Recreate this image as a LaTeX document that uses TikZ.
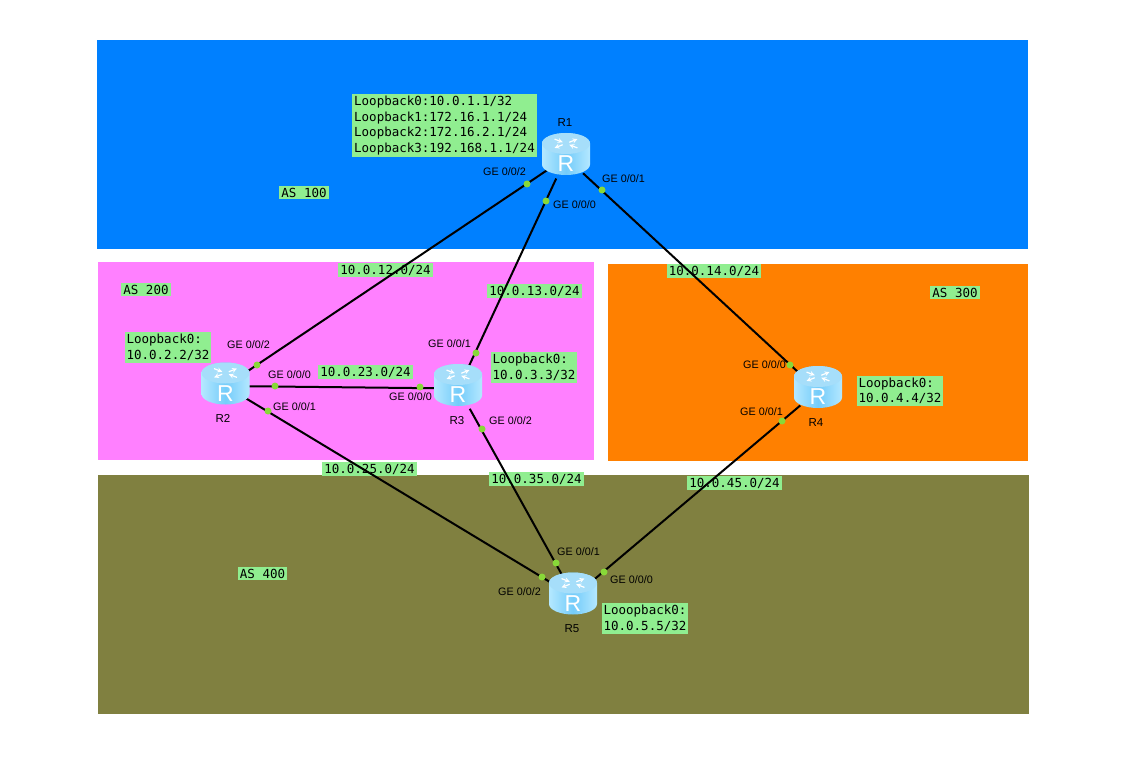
\documentclass[tikz,border=0pt]{standalone}
\usepackage{fontspec}
\setmainfont{Liberation Sans}
\setmonofont{DejaVu Sans Mono}
\usepackage{tikz}
\definecolor{asblue}{HTML}{0080FF}
\definecolor{aspink}{HTML}{FF80FF}
\definecolor{asorange}{HTML}{FF8000}
\definecolor{asolive}{HTML}{808040}
\definecolor{notegreen}{HTML}{90EE90}
\definecolor{portgreen}{HTML}{88D838}
\definecolor{routerlight}{HTML}{B4E8FF}
\definecolor{routermid}{HTML}{74CCFA}
\definecolor{routertop}{HTML}{A6DEFA}
\tikzset{
  netnote/.style={fill=notegreen, inner xsep=2pt, inner ysep=2.2pt, align=left, font=\ttfamily\fontsize{12.5}{15.6}\selectfont},
  iflabel/.style={inner sep=0pt, font=\fontsize{10.8}{12}\selectfont},
  routername/.style={inner sep=0pt, font=\fontsize{11.5}{13}\selectfont},
  portdot/.style={circle, fill=portgreen, inner sep=0pt, minimum size=7pt},
  linkline/.style={line width=2pt, black},
  routerhub/.style={circle, inner sep=0pt, minimum size=46pt},
  routericon/.pic={
    \shade[left color=routerlight, right color=routerlight, middle color=routermid]
      (-24,-10.5) -- (-24,10.5) arc[start angle=180, end angle=360, x radius=24pt, y radius=10.5pt]
      -- (24,-10.5) arc[start angle=0, end angle=180, x radius=24pt, y radius=10.5pt] -- cycle;
    \fill[routertop] (0,-10.5) ellipse[x radius=24pt, y radius=10.5pt];
    \foreach \ang/\tip in {35/->,145/<-,215/->,325/<-}
      \draw[white, line width=1.2pt, \tip, >=stealth, shift={(0,-10.5)}, yscale=0.55]
        (\ang:4pt) -- (\ang:14pt);
    \node[white, inner sep=0pt, font=\fontsize{23}{23}\selectfont] (-letter) at (0,10) {R};
  },
}
\begin{document}
\begin{tikzpicture}[x=1pt,y=-1pt]
\useasboundingbox (0,0) rectangle (1146,770);

% AS areas
\fill[asblue] (97,40) rectangle (1028,249);
\fill[aspink] (98,262) rectangle (594,460);
\fill[asorange] (608,264) rectangle (1028,461);
\fill[asolive] (98,475) rectangle (1029,714);

% AS labels
\node[netnote] (as100) at (304,192.5) {AS 100};
\node[netnote] (as200) at (146,289.5) {AS 200};
\node[netnote] (as300) at (955,292.5) {AS 300};
\node[netnote] (as400) at (262.5,573.5) {AS 400};

% Link networks
\node[netnote] (net12) at (385.5,270) {10.0.12.0/24};
\node[netnote] (net13) at (534.5,291) {10.0.13.0/24};
\node[netnote] (net14) at (714,271) {10.0.14.0/24};
\node[netnote] (net23) at (365.5,372) {10.0.23.0/24};
\node[netnote] (net25) at (369.5,469) {10.0.25.0/24};
\node[netnote] (net35) at (536.5,479) {10.0.35.0/24};
\node[netnote] (net45) at (734.5,483) {10.0.45.0/24};

% Loopbacks
\node[netnote] (loop1) at (444.5,125.5) {Loopback0:10.0.1.1/32\\Loopback1:172.16.1.1/24\\Loopback2:172.16.2.1/24\\Loopback3:192.168.1.1/24};
\node[netnote] (loop2) at (168,347.5) {Loopback0:\\10.0.2.2/32};
\node[netnote] (loop3) at (534,367.5) {Loopback0:\\10.0.3.3/32};
\node[netnote] (loop4) at (900,391) {Loopback0:\\10.0.4.4/32};
\node[netnote] (loop5) at (645,618.5) {Looopback0:\\10.0.5.5/32};

% Link ends
\node[routerhub] (R1) at (566,157.5) {};
\node[routerhub] (R2) at (225.5,386) {};
\node[routerhub] (R3) at (458.5,388.5) {};
\node[routerhub] (R4) at (818,390.5) {};
\node[routerhub] (R5) at (574,596.5) {};

% Links
\draw[linkline] (R1) -- (R2);
\draw[linkline] (R1) -- (R3);
\draw[linkline] (R1) -- (R4);
\draw[linkline] (R2) -- (R3);
\draw[linkline] (R2) -- (R5);
\draw[linkline] (R3) -- (R5);
\draw[linkline] (R4) -- (R5);

% Router
\pic (iconR1) at (566,154) {routericon};
\pic (iconR2) at (225.5,383.5) {routericon};
\pic (iconR3) at (458,385) {routericon};
\pic (iconR4) at (818,387) {routericon};
\pic (iconR5) at (573,593.5) {routericon};
\node[routername] (nameR1) at (565,123) {R1};
\node[routername] (nameR2) at (223,418) {R2};
\node[routername] (nameR3) at (457,421) {R3};
\node[routername] (nameR4) at (816,423) {R4};
\node[routername] (nameR5) at (572,629) {R5};

% Ports
\foreach \px/\py in {527/184,546/201,602/190,257/365,275/386,268/411,476/353,420/387,482/429,790/365,782/421,542/577,556/563,604/572}
  \node[portdot] (port\px) at (\px,\py) {};

% Interface labels
\node[iflabel] (if1a) at (504.5,172) {GE 0/0/2};
\node[iflabel] (if1b) at (574.5,205) {GE 0/0/0};
\node[iflabel] (if1c) at (623.5,179) {GE 0/0/1};
\node[iflabel] (if2a) at (248.5,345) {GE 0/0/2};
\node[iflabel] (if2b) at (289.5,375) {GE 0/0/0};
\node[iflabel] (if2c) at (294.5,407) {GE 0/0/1};
\node[iflabel] (if3a) at (449.5,344) {GE 0/0/1};
\node[iflabel] (if3b) at (410.5,397) {GE 0/0/0};
\node[iflabel] (if3c) at (510.5,421) {GE 0/0/2};
\node[iflabel] (if4a) at (764.5,365) {GE 0/0/0};
\node[iflabel] (if4b) at (761.5,412) {GE 0/0/1};
\node[iflabel] (if5a) at (578.5,552) {GE 0/0/1};
\node[iflabel] (if5b) at (631.5,580) {GE 0/0/0};
\node[iflabel] (if5c) at (519.5,592) {GE 0/0/2};
\end{tikzpicture}
\end{document}
